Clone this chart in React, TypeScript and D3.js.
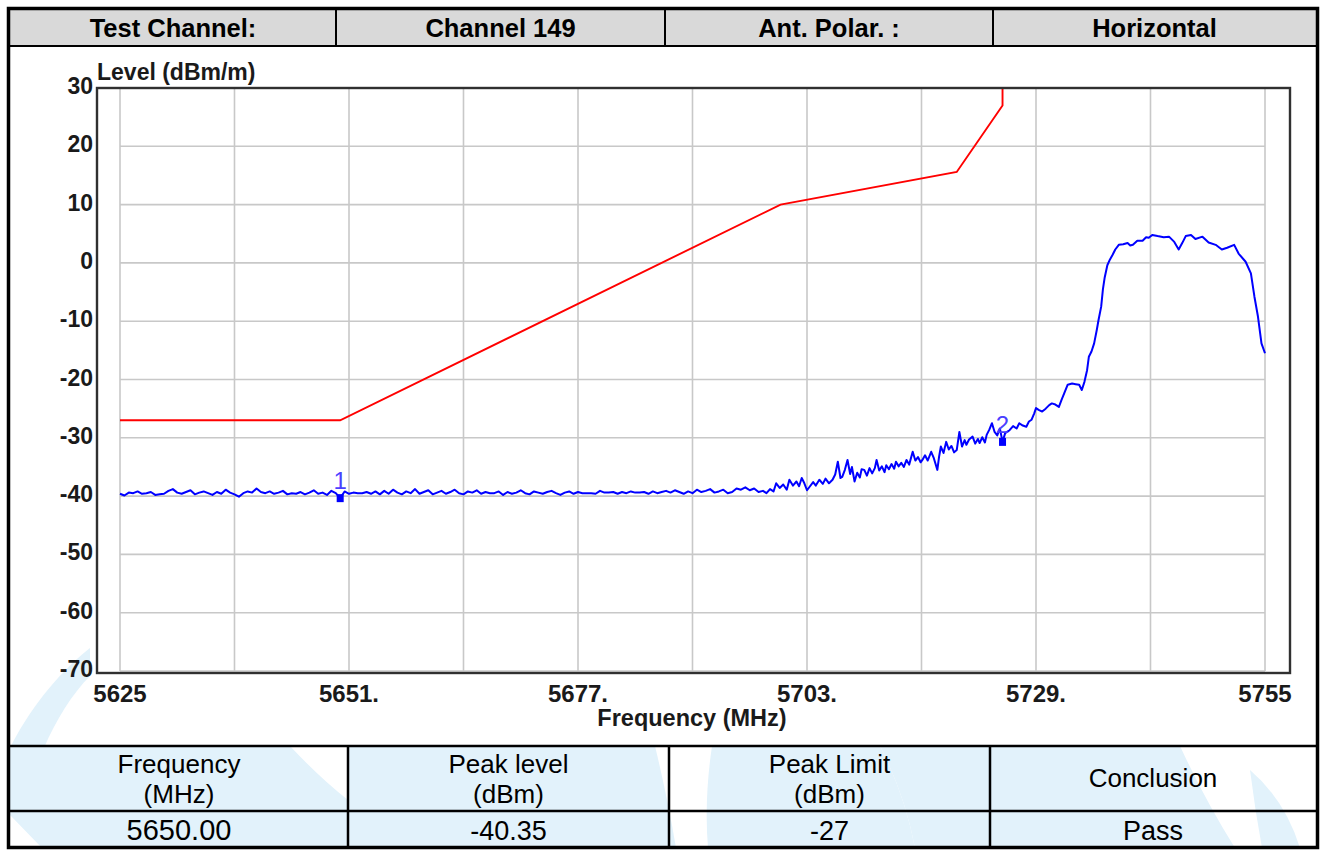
import React from 'react';
import * as d3 from 'd3';

// ---------- data ----------
const headerCells = ['Test Channel:', 'Channel 149', 'Ant. Polar. :', 'Horizontal'];
const tableHeaders = [['Frequency', '(MHz)'], ['Peak level', '(dBm)'], ['Peak Limit', '(dBm)'], ['Conclusion']];
const tableValues = ['5650.00', '-40.35', '-27', 'Pass'];

const xTickValues = [5625, 5651, 5677, 5703, 5729, 5755];
const xTickLabels = ['5625', '5651.', '5677.', '5703.', '5729.', '5755'];
const xGridValues = [5625, 5638, 5651, 5664, 5677, 5690, 5703, 5716, 5729, 5742, 5755];
const yTickValues = [30, 20, 10, 0, -10, -20, -30, -40, -50, -60, -70];

const limitFreqs = [5625, 5650, 5700, 5720, 5725.2, 5725.2];
const limitLevels = [-27, -27, 10, 15.6, 27, 30];

// noise floor sweep, 5625..5695 MHz every 0.5 MHz
const floorStart = 5625;
const floorStep = 0.5;
const floorLevels = [
  -39.6, -39.9, -39.4, -39.5, -39.2, -39.6, -39.5, -39.3, -39.8, -39.7, -39.6, -39.1, -38.8, -39.4, -39.6, -39.3, -39.0, -39.7, -39.4, -39.2,
  -39.5, -39.8, -39.3, -39.6, -38.9, -39.4, -39.7, -40.1, -39.5, -39.2, -39.4, -38.7, -39.3, -39.5, -39.2, -39.6, -39.4, -39.1, -39.7, -39.5,
  -39.6, -39.3, -39.7, -39.4, -39.0, -39.6, -39.4, -39.8, -39.1, -39.5, -40.35, -39.2, -39.6, -39.4, -39.5, -39.5, -39.3, -39.6, -39.2, -39.7,
  -39.1, -39.6, -38.9, -39.4, -39.7, -39.2, -39.5, -38.8, -39.6, -39.3, -39.0, -39.7, -39.4, -39.1, -39.6, -39.3, -38.9, -39.5, -39.7, -39.2,
  -39.4, -39.0, -39.6, -39.3, -39.5, -39.5, -39.2, -39.8, -39.3, -39.6, -39.4, -39.0, -39.5, -39.7, -39.2, -39.4, -39.6, -39.3, -39.1, -39.5,
  -39.8, -39.4, -39.2, -39.6, -39.3, -39.5, -39.5, -39.5, -39.6, -39.1, -39.4, -39.4, -39.3, -39.6, -39.3, -39.5, -39.2, -39.4, -39.4, -39.3,
  -39.6, -39.2, -39.5, -39.3, -39.1, -39.4, -39.0, -39.3, -39.6, -39.2, -39.5, -38.9, -39.3, -39.1, -38.8, -39.4, -39.2, -38.9, -39.5, -39.3,
  -38.7,
];

// rising part and channel, [MHz, dBm]
const sweepTail: [number, number][] = [
  [5695.5, -38.9], [5696, -38.5], [5696.5, -39.0], [5697, -38.7], [5697.5, -39.3], [5698, -39.1], [5698.4, -39.5],
  [5698.8, -38.8], [5699.2, -39.2], [5699.5, -37.8], [5699.9, -38.6], [5700.3, -38.0], [5700.7, -38.9], [5701, -37.2],
  [5701.4, -38.2], [5701.8, -37.5], [5702.1, -38.3], [5702.4, -36.9], [5702.7, -37.8], [5703, -39.0], [5703.3, -38.4],
  [5703.7, -37.6], [5704, -38.2], [5704.4, -37.2], [5704.8, -37.9], [5705.1, -37.0], [5705.5, -37.8], [5705.9, -37.2],
  [5706.2, -36.3], [5706.5, -34.1], [5706.8, -36.9], [5707, -36.7], [5707.3, -35.5], [5707.6, -33.8], [5707.9, -36.2],
  [5708.1, -35.0], [5708.4, -37.5], [5708.7, -36.0], [5709, -36.8], [5709.2, -35.4], [5709.5, -35.5], [5709.8, -36.5],
  [5710.1, -35.2], [5710.4, -36.1], [5710.7, -35.2], [5710.9, -33.8], [5711.2, -35.6], [5711.5, -34.9], [5711.8, -35.9],
  [5712, -34.7], [5712.3, -35.4], [5712.6, -34.5], [5712.9, -35.3], [5713.1, -34.1], [5713.4, -34.9], [5713.7, -34.3],
  [5714, -35.0], [5714.3, -33.8], [5714.6, -34.6], [5715, -32.4], [5715.3, -33.9], [5715.6, -33.3], [5715.9, -34.2],
  [5716.1, -33.8], [5716.4, -33.0], [5716.7, -33.9], [5717.1, -32.4], [5717.4, -33.5], [5717.8, -35.5], [5718.0, -33.2],
  [5718.2, -31.5], [5718.5, -32.6], [5718.8, -30.7], [5719.1, -32.0], [5719.4, -31.4], [5719.7, -32.5], [5720, -32.1],
  [5720.3, -29.0], [5720.6, -31.5], [5720.9, -30.4], [5721.1, -31.2], [5721.4, -30.3], [5721.8, -29.8], [5722.1, -31.0],
  [5722.4, -30.2], [5722.6, -30.9], [5722.9, -29.9], [5723.2, -30.8], [5723.4, -29.5], [5723.7, -28.6], [5724, -27.5],
  [5724.3, -29.0], [5724.6, -29.6], [5724.9, -28.4], [5725.2, -30.7], [5725.5, -29.2], [5725.8, -28.9], [5726, -28.7],
  [5726.4, -28.0], [5726.8, -28.4], [5727.1, -27.5], [5727.5, -27.9], [5727.9, -28.1], [5728.2, -27.2], [5728.5, -26.9],
  [5728.8, -25.8], [5729, -24.9], [5729.3, -25.2], [5729.7, -25.5], [5730.1, -25.0], [5730.5, -24.4], [5730.8, -24.1],
  [5731.2, -24.3], [5731.6, -24.7], [5731.9, -23.5], [5732.2, -22.4], [5732.6, -20.9], [5733.1, -20.7], [5733.5, -20.8],
  [5733.9, -20.9], [5734.2, -21.8], [5734.5, -20.4], [5734.8, -18.4], [5735.0, -16.1], [5735.3, -15.2], [5735.6, -13.8],
  [5735.9, -11.5], [5736.1, -9.8], [5736.4, -7.5], [5736.6, -4.5], [5736.8, -2.5], [5737.1, -0.4], [5737.4, 0.6],
  [5737.7, 1.4], [5738.0, 2.3], [5738.4, 3.1], [5738.9, 3.2], [5739.4, 3.4], [5739.7, 3.0], [5740, 3.1], [5740.5, 3.8],
  [5741.1, 3.8], [5741.5, 4.4], [5741.8, 4.3], [5742.2, 4.8], [5742.8, 4.6], [5743.5, 4.4], [5744.1, 4.5], [5744.7, 3.6],
  [5745.2, 2.3], [5745.6, 3.4], [5746, 4.6], [5746.6, 4.8], [5747.1, 4.1], [5747.9, 4.5], [5748.6, 3.5], [5749.4, 3.1],
  [5750.1, 2.3], [5750.7, 2.6], [5751.5, 3.1], [5752, 1.6], [5752.8, 0.2], [5753.4, -1.8], [5753.8, -5.8], [5754.2, -9.2],
  [5754.6, -13.8], [5755, -15.5],
];

const markerLabels = ['1', '2'];
const markerFreqs = [5650, 5725.2];
const markerLevels = [-40.35, -30.7];

// ---------- component ----------
const FONT = '"Liberation Sans", Arial, sans-serif';
const WATER = '#e2f2fb';
const AXIS_INK = '#1a1a1a';

export default function App() {
  const x = d3.scaleLinear().domain([5625, 5755]).range([120, 1265]);
  const y = d3.scaleLinear().domain([-70, 30]).range([671, 88]);

  const sweep: [number, number][] = floorLevels
    .map((v, i) => [floorStart + i * floorStep, v] as [number, number])
    .concat(sweepTail);
  const limit: [number, number][] = limitFreqs.map((f, i) => [f, limitLevels[i]]);

  const line = d3
    .line<[number, number]>()
    .x((d) => x(d[0]))
    .y((d) => y(d[1]));

  const headerCols = [10, 336, 665, 993, 1316];
  const tableCols = [10, 348, 669, 990, 1316];
  const frame = { l: 97, t: 88, r: 1290, b: 673 };

  return (
    <svg width={1325} height={850} style={{ position: 'absolute', left: 0, top: 0, background: '#fff' }}>
      {/* watermark */}
      <g fill={WATER}>
        <path d="M10,748 C28,712 55,676 90,648 L90,676 C72,694 56,720 44,748 Z" />
        <path d="M10,815 L10,746 L290,746 Q320,778 348,800 L348,848 L42,848 Z" />
        <path d="M348,746 L655,746 Q668,800 676,848 L348,848 Z" />
        <path d="M712,746 L880,746 Q905,795 915,848 L708,848 Q704,800 712,746 Z" />
        <path d="M915,848 Q905,795 880,746 L1180,746 Q1205,800 1235,848 Z" />
        <path d="M1250,770 Q1285,800 1300,848 L1262,848 Q1255,810 1250,770 Z" />
      </g>

      {/* header */}
      <rect x={10} y={10} width={1306} height={36} fill="#d9d9d9" />
      {headerCols.slice(1, 4).map((cx) => (
        <line key={cx} x1={cx} x2={cx} y1={10} y2={46} stroke="#000" strokeWidth={2} />
      ))}
      <line x1={10} x2={1316} y1={46} y2={46} stroke="#000" strokeWidth={2} />
      {headerCells.map((t, i) => (
        <text
          key={t}
          x={(headerCols[i] + headerCols[i + 1]) / 2}
          y={37}
          textAnchor="middle"
          fontFamily={FONT}
          fontWeight="bold"
          fontSize={25.5}
          fill="#000"
        >
          {t}
        </text>
      ))}

      {/* plot background */}
      <rect x={frame.l} y={frame.t} width={frame.r - frame.l} height={frame.b - frame.t} fill="#fff" />

      {/* grid */}
      <g stroke="#c8c8c8" strokeWidth={1.6}>
        {xGridValues.map((v) => (
          <line key={'gx' + v} x1={x(v)} x2={x(v)} y1={frame.t} y2={y(-70)} />
        ))}
        {yTickValues.map((v) => (
          <line key={'gy' + v} x1={x(5625)} x2={x(5755)} y1={y(v)} y2={y(v)} />
        ))}
      </g>

      {/* traces */}
      <path d={line(limit) || ''} fill="none" stroke="#ff0000" strokeWidth={1.9} />
      <path d={line(sweep) || ''} fill="none" stroke="#0000ff" strokeWidth={2} strokeLinejoin="round" />

      {/* markers */}
      {markerLabels.map((m, i) => (
        <g key={m}>
          <rect x={x(markerFreqs[i]) - 3.5} y={y(markerLevels[i]) - 4} width={7} height={8} fill="#0000ff" />
          <text
            x={x(markerFreqs[i])}
            y={y(markerLevels[i]) - 9}
            textAnchor="middle"
            fontFamily={FONT}
            fontSize={24}
            fill="#4a40ff"
          >
            {m}
          </text>
        </g>
      ))}

      {/* frame */}
      <rect
        x={frame.l}
        y={frame.t}
        width={frame.r - frame.l}
        height={frame.b - frame.t}
        fill="none"
        stroke="#303030"
        strokeWidth={2.4}
      />

      {/* y axis labels */}
      {yTickValues.map((v) => (
        <text
          key={'yl' + v}
          x={93}
          y={y(v) + 6}
          textAnchor="end"
          fontFamily={FONT}
          fontWeight="bold"
          fontSize={23}
          fill={AXIS_INK}
        >
          {v}
        </text>
      ))}
      <text x={97} y={80} fontFamily={FONT} fontWeight="bold" fontSize={23} fill={AXIS_INK}>
        Level (dBm/m)
      </text>

      {/* x axis labels */}
      {xTickValues.map((v, i) => (
        <text
          key={'xl' + v}
          x={x(v)}
          y={702}
          textAnchor="middle"
          fontFamily={FONT}
          fontWeight="bold"
          fontSize={24}
          fill={AXIS_INK}
        >
          {xTickLabels[i]}
        </text>
      ))}
      <text x={692} y={726} textAnchor="middle" fontFamily={FONT} fontWeight="bold" fontSize={23.5} fill={AXIS_INK}>
        Frequency (MHz)
      </text>

      {/* table */}
      <line x1={10} x2={1316} y1={746} y2={746} stroke="#000" strokeWidth={2.5} />
      <line x1={10} x2={1316} y1={811} y2={811} stroke="#000" strokeWidth={2.5} />
      {tableCols.slice(1, 4).map((cx) => (
        <line key={'tc' + cx} x1={cx} x2={cx} y1={746} y2={848} stroke="#000" strokeWidth={2.5} />
      ))}
      {tableHeaders.map((lines, i) => {
        const cx = (tableCols[i] + tableCols[i + 1]) / 2;
        if (lines.length === 1) {
          return (
            <text key={'th' + i} x={cx} y={787} textAnchor="middle" fontFamily={FONT} fontSize={26} fill="#000">
              {lines[0]}
            </text>
          );
        }
        return (
          <g key={'th' + i}>
            <text x={cx} y={773} textAnchor="middle" fontFamily={FONT} fontSize={26} fill="#000">
              {lines[0]}
            </text>
            <text x={cx} y={803} textAnchor="middle" fontFamily={FONT} fontSize={26} fill="#000">
              {lines[1]}
            </text>
          </g>
        );
      })}
      {tableValues.map((t, i) => (
        <text
          key={'tv' + i}
          x={(tableCols[i] + tableCols[i + 1]) / 2}
          y={840}
          textAnchor="middle"
          fontFamily={FONT}
          fontSize={i === 0 ? 29 : 27}
          fill="#000"
        >
          {t}
        </text>
      ))}

      {/* outer border */}
      <rect x={8.5} y={8.5} width={1309} height={839} fill="none" stroke="#000" strokeWidth={3.5} />
    </svg>
  );
}
